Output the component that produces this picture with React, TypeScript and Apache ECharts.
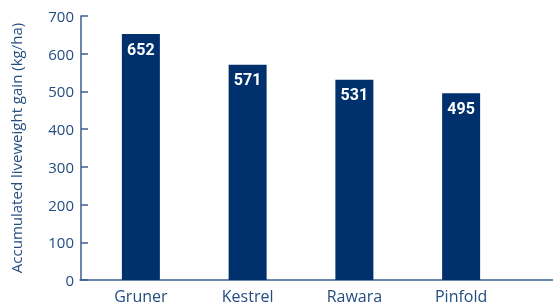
import React, { useEffect, useRef } from "react";
import * as echarts from "echarts";

const categories = ["Gruner", "Kestrel", "Rawara", "Pinfold"];
const values = [652, 571, 531, 495];
const yTicks = [0, 100, 200, 300, 400, 500, 600, 700];
const yTitle = "Accumulated liveweight gain (kg/ha)";

const TEXT = "#244d80";
const AXIS = "#3b5d8f";
const BAR = "#00316d";
const FONT = "Open Sans";

export default function App() {
  const ref = useRef<HTMLDivElement>(null);
  useEffect(() => {
    const chart = echarts.init(ref.current!, null, { renderer: "svg" });
    chart.setOption({
      animation: false,
      grid: [
        { left: 86.5, right: 38.5, top: 16, bottom: 27 },
        { left: 80, right: 0, top: 16, bottom: 27 },
      ],
      xAxis: [
        {
          type: "category",
          gridIndex: 0,
          data: categories,
          axisLine: { show: false },
          axisTick: { show: false },
          axisLabel: { color: TEXT, fontSize: 16, fontFamily: FONT, margin: 8 },
        },
        {
          type: "value",
          gridIndex: 1,
          min: 0,
          max: 1,
          axisLine: { show: true, lineStyle: { color: AXIS, width: 1.5 } },
          axisTick: { show: false },
          axisLabel: { show: false },
          splitLine: { show: false },
        },
      ],
      yAxis: [
        {
          type: "value",
          gridIndex: 0,
          min: yTicks[0],
          max: yTicks[yTicks.length - 1],
          interval: 100,
          offset: 6.5,
          name: yTitle,
          nameLocation: "middle",
          nameGap: 58,
          nameTextStyle: { color: TEXT, fontSize: 15, fontFamily: FONT },
          axisLine: { show: true, lineStyle: { color: AXIS, width: 1.5 } },
          axisTick: { show: true, inside: true, length: 7, lineStyle: { color: AXIS, width: 1.5 } },
          axisLabel: { color: TEXT, fontSize: 15, fontFamily: FONT, margin: 7 },
          splitLine: { show: false },
        },
        {
          type: "value",
          gridIndex: 1,
          show: false,
        },
      ],
      series: [
        {
          type: "bar",
          xAxisIndex: 0,
          yAxisIndex: 0,
          data: values,
          barWidth: 38,
          itemStyle: { color: BAR },
          label: {
            show: true,
            position: "insideTop",
            distance: 7,
            color: "#ffffff",
            fontSize: 16,
            fontWeight: "bold",
            fontFamily: "Roboto",
          },
        },
      ],
    });
    return () => chart.dispose();
  }, []);
  return <div ref={ref} style={{ width: 553, height: 307, position: "fixed", left: 0, top: 0 }} />;
}
